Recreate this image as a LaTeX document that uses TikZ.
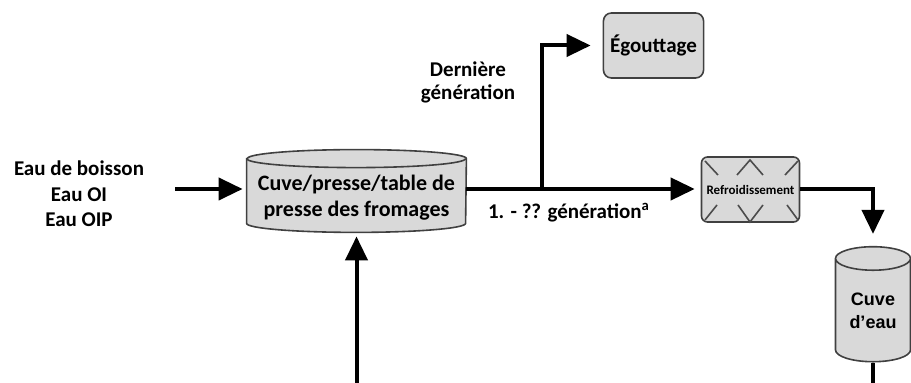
\documentclass[tikz,border=0pt]{standalone}
\usepackage{fontspec}
\setmainfont{Carlito}
\newfontfamily\cuvefont{Liberation Sans}
\usetikzlibrary{shapes.geometric,arrows.meta}

\tikzset{
  flow/.style={line width=2pt, -{Triangle[length=12pt,width=11pt]}},
  bac/.style={draw=black!75, line width=0.8pt, fill=gray!30, rounded corners=4pt},
  cuvette/.style={cylinder, shape border rotate=90, draw=black!75, line width=0.8pt, fill=gray!30, inner sep=0pt},
  paroi/.style={draw=black!75, line width=0.8pt},
  lbl/.style={font=\bfseries\fontsize{10.5}{12.7}\selectfont, align=center, inner sep=0pt},
  zig/.style={draw=black!70, line width=0.8pt},
}

\begin{document}
\begin{tikzpicture}[x=0.5pt, y=-0.5pt]
  \useasboundingbox (0,0) rectangle (911,383);

  % Sources
  \node[lbl] (source) at (79,194) {Eau de boisson\\Eau OI\\Eau OIP};
  \coordinate (in) at (175,189);

  % Cuve principale (drawn by hand round its node)
  \node[inner sep=0pt, minimum width=109.5pt, minimum height=41pt] (cuve) at (356.5,191) {};
  \filldraw[paroi, fill=gray!30] ([yshift=-4.5pt]cuve.north west) -- ([yshift=4.5pt]cuve.south west)
      arc[start angle=180, end angle=360, x radius=54.75pt, y radius=4.5pt]
      -- ([yshift=-4.5pt]cuve.north east)
      arc[start angle=0, end angle=180, x radius=54.75pt, y radius=4.5pt] -- cycle;
  \draw[paroi] ([yshift=-4.5pt]cuve.north west)
      arc[start angle=180, end angle=360, x radius=54.75pt, y radius=4.5pt];
  \node[lbl, font=\bfseries\fontsize{11}{13}\selectfont] (cuvetxt) at (356.5,198)
        {Cuve/presse/table de\\presse des fromages};

  % Egouttage
  \node[bac, minimum width=49.5pt, minimum height=32.5pt,
        font=\bfseries\fontsize{10.5}{12}\selectfont] (egout) at (653.5,45.5) {Égouttage};
  \node[lbl, font=\bfseries\fontsize{10.5}{11.5}\selectfont] (derniere) at (468,82) {Dernière\\génération};

  % Refroidissement
  \node[bac, rounded corners=3pt, minimum width=49pt, minimum height=32.5pt, inner sep=0pt,
        font=\bfseries\fontsize{6.5}{7}\selectfont] (refr) at (750.5,189.5) {Refroidissement};
  \draw[zig] (705,161) -- (718,175) (737,175) -- (750,160) -- (763,175) (785,175) -- (798,161);
  \draw[zig] (705,220) -- (717,205) (738,205) -- (750,222) -- (763,205) (787,205) -- (798,220);

  % Cuve d'eau
  \node[cuvette, aspect=0.5, minimum width=37.5pt, minimum height=57.5pt,
        font=\cuvefont\bfseries\fontsize{9}{11.5}\selectfont, align=center] (eau) at (873,310.5)
        {Cuve\\d’eau};

  \node[lbl] (gen) at (569,213) {1. - ?? génération\textsuperscript{a}};

  % Wires
  \coordinate (split) at (542,189);
  \coordinate (bas) at (0,385);
  \draw[flow, shorten >=2pt] (in) -- (in -| cuve.west);
  \draw[flow, shorten >=3pt] (split -| cuve.east) -- (split -| refr.west);
  \draw[flow, shorten >=6pt] (split) |- (egout.west);
  \draw[flow, shorten >=6pt] (refr.east) -| (eau.north);
  \draw[flow, shorten >=2pt] (eau.south) -- (eau.south |- bas) -| (cuve.south);
\end{tikzpicture}
\end{document}
